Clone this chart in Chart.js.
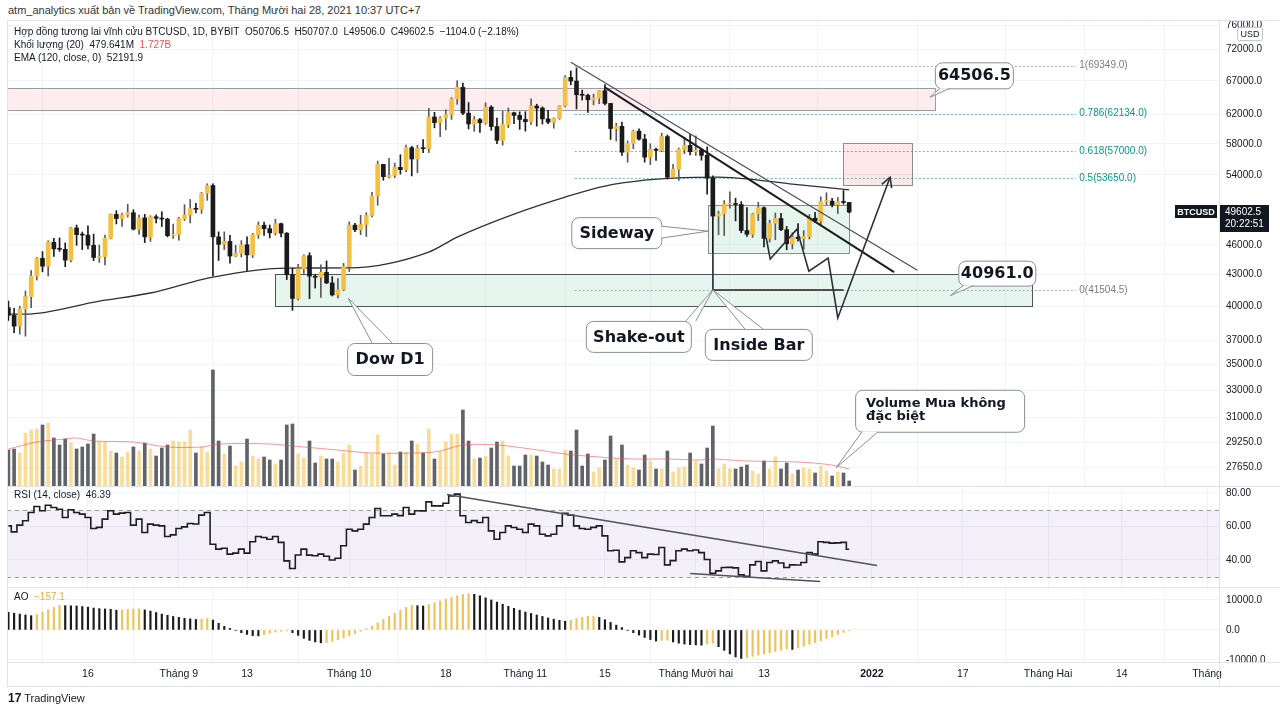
<!DOCTYPE html>
<html>
<head>
<meta charset="utf-8">
<script src="https://cdn.jsdelivr.net/npm/chart.js@4.4.1/dist/chart.umd.min.js"></script>
<style>
  body { margin: 0; background: #fff; width: 1280px; height: 713px; overflow: hidden; position: relative;
         font-family: "Liberation Sans", Arial, sans-serif; color: #131722; }
  canvas { position: absolute; left: 0; }
  #main { top: 20px; }
  #rsi { top: 487px; }
  #ao { top: 588px; }
  .t { position: absolute; white-space: nowrap; font-size: 10px; line-height: 12px; z-index: 2; }
  .sep { position: absolute; background: #e0e3eb; z-index: 1; }
</style>
</head>
<body>
<div class="t" style="left:8px;top:4px;font-size:11px;color:#333">atm_analytics xuất bản về TradingView.com, Tháng Mười hai 28, 2021 10:37 UTC+7</div>

<canvas id="main" width="1280" height="466"></canvas>
<canvas id="rsi" width="1280" height="100"></canvas>
<canvas id="ao" width="1280" height="98"></canvas>

<div class="sep" style="left:7px;top:20px;width:1273px;height:1px"></div>
<div class="sep" style="left:7px;top:20px;width:1px;height:666px"></div>
<div class="sep" style="left:1219px;top:20px;width:1px;height:666px"></div>
<div class="sep" style="left:7px;top:486px;width:1273px;height:1px"></div>
<div class="sep" style="left:7px;top:587px;width:1273px;height:1px"></div>
<div class="sep" style="left:7px;top:662px;width:1273px;height:1px"></div>
<div class="sep" style="left:7px;top:686px;width:1273px;height:1px"></div>

<div class="t" style="left:14px;top:26px">Hợp đồng tương lai vĩnh cửu BTCUSD, 1D, BYBIT&nbsp; O50706.5&nbsp; H50707.0&nbsp; L49506.0&nbsp; C49602.5&nbsp; −1104.0 (−2.18%)</div>
<div class="t" style="left:14px;top:39px">Khối lượng (20)&nbsp; 479.641M&nbsp; <span style="color:#ef5350">1.727B</span></div>
<div class="t" style="left:14px;top:52px">EMA (120, close, 0)&nbsp; 52191.9</div>
<div class="t" style="left:14px;top:489px">RSI (14, close)&nbsp; 46.39</div>
<div class="t" style="left:14px;top:591px">AO&nbsp; <span style="color:#e3b23c">−157.1</span></div>
<div class="t" style="left:8px;top:692px;font-size:11px"><b style="font-size:12px">17</b> TradingView</div>

<script>
// 1 Aug 2021 = day 0, first candle 2 Aug 2021
const firstDay = 1;

const opens = [39850,39150,38200,39740,40870,42840,44610,43820,46290,45590,45550,44430,47830,47100,47050,45970,44700,44800,46720,49340,48870,49290,49530,47700,48950,46860,49070,48900,48810,46990,
  47110,48850,49290,49990,49920,51790,52700,46860,46070,46370,44850,45150,46030,44960,47110,48130,47750,47300,48300,47260,42970,40700,43560,44890,42830,42720,43210,42170,41030,41520,
  43790,48140,47630,48200,49220,51470,55320,53790,53950,54950,54660,57480,56010,57370,57350,61670,60880,61530,62010,64280,66000,62210,60690,61300,60850,63080,60330,58450,60620,62270,61890,
  61320,61000,63230,62940,61400,60940,61480,63270,67530,66950,64880,64810,64140,64400,65500,63610,60060,60360,56890,58050,59710,58620,56250,57270,57130,58960,53730,54720,57270,57780,
  56950,57180,56480,53600,49150,49400,50530,50580,50470,47550,47140,49390,50100,46700,48340,48880,47640,46130,46830,46680,46910,48920,48620,50820,50850,50430,50800,50706.5];
const highs = [40450,39780,39980,41400,43390,44700,45310,46450,46700,46750,46220,47890,48150,47390,48050,47160,46000,47050,49390,49760,49500,50500,49870,49270,49350,49180,49300,49640,48910,48250,
  49000,50450,51050,50600,51900,52920,52920,47400,47400,47030,45980,46460,46880,47250,48500,48490,48150,48800,48370,47330,43630,44000,44980,45200,42980,43950,44350,42790,42600,44100,
  48500,48350,49230,49530,51890,55750,55330,56100,55490,56560,57820,57650,57800,58550,62900,62330,61720,62700,64480,67000,66640,63730,61750,61490,63710,63290,61500,62500,62960,62350,62400,
  62420,64270,63500,63120,62600,61560,63290,67790,68530,69000,65580,65000,64970,65500,66400,63620,60800,60960,58370,59850,60030,59270,58000,57420,59400,59180,55330,57440,58870,59250,
  59050,57380,57600,53900,49700,50920,51940,51200,50800,50100,49480,50720,50200,48700,49500,49450,48000,47300,48300,47550,49330,49580,51370,51850,51200,51280,52100,50707];
const lows = [38700,37640,37510,37330,39850,42450,43260,42850,44800,45330,43770,44250,45960,45520,45600,44380,44200,43950,46650,48270,48000,49030,47600,47120,46250,46370,48380,47980,46860,46700,
  46510,48650,48380,49500,49450,50950,42850,44400,45520,44130,44760,44750,43370,44690,46700,47020,46750,47050,46850,42500,39600,40570,43090,40680,41680,40800,42100,40930,40750,41420,
  43280,47430,47100,46900,49050,50380,53350,53650,53660,54100,54420,53880,54260,56830,56850,60150,58960,59850,61320,63480,62000,60000,59670,59530,60650,59820,58000,57820,60170,60720,59940,
  59700,60620,60380,60680,60720,60100,61340,63120,66380,62820,64100,62300,63400,63570,63400,58570,58370,56480,55600,57350,58470,55610,55300,55830,56950,53500,53660,53330,56700,56550,
  56460,55850,51680,41504.5,47100,47000,50040,48600,47300,46900,46800,48650,45800,46300,46550,47520,45500,45580,46400,45560,46630,48420,48050,50430,50200,49430,50500,49506];
const closes = [39150,38200,39740,40870,42840,44610,43820,46290,45590,45550,44430,47830,47100,47050,45970,44700,44800,46720,49340,48870,49290,49530,47700,48950,46860,49070,48900,48810,46990,47110,
  48850,49290,49990,49920,51790,52700,46860,46070,46370,44850,45150,46030,44960,47110,48130,47750,47300,48300,47260,42970,40700,43560,44890,42830,42720,43210,42170,41030,41520,43790,
  48140,47630,48200,49220,51470,55320,53790,53950,54950,54660,57480,56010,57370,57350,61670,60880,61530,62010,64280,66000,62210,60690,61300,60850,63080,60330,58450,60620,62270,61890,61320,
  61000,63230,62940,61400,60940,61480,63270,67530,66950,64880,64810,64140,64400,65500,63610,60060,60360,56890,58050,59710,58620,56250,57270,57130,58960,53730,54720,57270,57780,56950,
  57180,56480,53600,49150,49400,50530,50580,50470,47550,47140,49390,50100,46700,48340,48880,47640,46130,46830,46680,46910,48920,48620,50820,50850,50430,50800,50710,49602.5];

// volume, billions
const volumes = [3.6,3.7,3.3,5.3,5.6,5.7,6.1,6.3,4.8,4.1,4.7,4.3,3.7,3.9,4.2,5.2,4.4,4.4,3.5,3.3,2.9,3.4,3.9,3.5,4.3,3.7,3.0,3.8,4.1,4.5,
  4.4,4.4,5.6,3.3,3.9,3.4,11.6,4.5,3.2,4.0,2.0,2.4,4.7,3.0,2.7,2.9,2.6,2.2,2.6,6.1,6.2,3.2,2.8,4.5,2.3,3.0,2.7,2.7,2.4,3.3,
  4.1,1.6,2.0,3.3,3.2,5.1,3.2,3.3,2.1,3.4,3.4,4.5,4.2,3.3,5.7,2.7,3.4,4.4,5.2,5.2,7.6,4.5,2.7,2.8,3.0,3.8,4.4,4.5,3.0,2.0,2.0,
  3.1,3.1,3.0,2.4,2.1,1.7,1.7,3.6,3.5,5.6,2.0,3.2,1.4,1.8,2.6,5.0,2.7,4.1,2.1,1.8,1.6,3.1,2.5,1.7,1.7,3.5,1.4,1.8,1.9,3.3,
  2.5,2.2,3.8,6.0,1.7,2.2,1.7,1.7,1.9,2.1,1.5,1.2,2.5,1.7,2.9,1.7,2.3,1.2,1.6,1.8,1.7,1.3,2.0,1.5,1.0,1.4,1.3,0.5];
const volMaDays = [1,6,11,13,16,23,29,35,38,47,53,59,65,76,81,87,93,99,105,111,117,123,125,131,140,146,149];
const volMaValues = [3.7,4.4,4.7,4.8,4.5,4.4,3.9,3.9,4.2,4.2,3.9,3.6,3.3,3.4,4.1,4.1,3.7,3.2,2.9,2.7,2.7,2.6,2.7,2.5,2.4,2.1,1.7];

const emaDays = [1,4,17,26,37,50,61,75,80,90,99,106,113,118,126,133,139,149];
const emaValues = [39270,39270,40460,41210,42740,43630,43650,45260,46840,49380,51340,52650,53370,53620,53740,53370,52890,52190];

const rsiValues = [60.4,56.8,60.8,63.4,68.4,71.9,69.4,72.7,71.3,70.3,65.4,70.0,68.4,67.4,65.4,58.8,59.5,64.4,69.4,67.4,68.0,68.4,60.8,64.4,56.4,61.4,60.8,60.4,54.0,55.0,
  58.8,59.8,61.8,61.5,66.8,68.4,49.4,46.5,47.0,43.5,44.1,46.5,44.1,50.9,54.0,53.4,52.4,54.0,50.5,39.5,34.9,43.0,46.5,42.9,42.5,43.5,42.2,40.0,41.0,48.5,
  58.4,57.4,58.4,61.4,65.4,70.7,66.4,66.4,67.4,66.5,71.3,67.4,69.4,69.3,74.7,72.3,72.3,73.9,78.3,79.3,66.4,62.4,63.5,62.4,65.4,57.4,52.4,56.4,60.4,59.4,58.4,
  56.4,61.4,60.4,55.4,54.4,55.4,60.4,67.9,66.8,60.4,58.8,58.4,59.5,60.4,54.4,45.5,45.8,38.9,41.4,45.5,44.4,41.4,43.5,43.3,47.5,37.1,39.6,45.5,46.5,45.5,
  46.0,44.4,40.3,32.1,33.5,35.5,35.6,35.3,31.1,30.3,37.1,39.1,33.5,38.5,39.5,38.2,35.5,37.1,37.0,38.5,44.4,43.5,50.9,50.5,50.1,50.2,50.5,46.4];

const aoValues = [5900,5600,5300,5000,4750,5200,6000,6800,7500,8200,8100,8050,8000,7800,7600,7300,7100,7000,6900,6600,6700,6850,7000,7050,6700,6300,5800,5300,4900,4500,
  4200,3900,3700,3500,3650,3850,3300,2200,1200,500,-200,-900,-1500,-1900,-2000,-1600,-1100,-700,-400,-300,-900,-1800,-2800,-3500,-4000,-4300,-4200,-3800,-3300,-2700,
  -2000,-1200,-500,400,1300,2400,3500,4600,5600,6600,7500,8300,8100,8000,8500,9100,9700,10300,10900,11400,11800,12100,11900,11400,10700,10000,9300,8600,7900,7200,6600,
  6000,5500,5000,4500,4000,3600,3200,2900,3300,3800,4200,4500,4600,4200,3400,2500,1600,800,-100,-900,-1700,-2500,-3200,-3700,-3500,-3400,-4000,-4400,-4700,
  -4900,-5000,-5100,-4700,-4400,-5600,-6800,-8000,-9000,-9500,-9200,-8800,-8400,-8000,-7600,-7200,-6800,-6400,-6500,-6000,-5400,-4800,-4200,-3600,-2900,-2200,-1500,-800,-157.1];

const tickDays = [15,31,43,61,78,92,106,122,134,153,169,184,197,212];
const tickLabels = ['16','Tháng 9','13','Tháng 10','18','Tháng 11','15','Tháng Mười hai','13','2022','17','Tháng Hai','14','Tháng'];
const priceTicks = [76000,72000,67000,62000,58000,54000,46000,43000,40000,37000,35000,33000,31000,29250,27650];
const rsiTicks = [80,60,40];
const aoTicks = [10000,0,-10000];

const fibLabels = ['1(69349.0)','0.786(62134.0)','0.618(57000.0)','0.5(53650.0)','0(41504.5)'];
const fibPrices = [69349.0,62134.0,57000.0,53650.0,41504.5];
const fibColors = ['#787b86','#089981','#089981','#089981','#787b86'];

const lastPrice = 49602.5;

const dayMin = 0.75, dayMax = 214.1;
const UP = '#f3c043', DOWN = '#1b1b1b';
const axisFont = { family: '"Liberation Sans", Arial, sans-serif', size: 10 };
Chart.defaults.font.family = axisFont.family;
Chart.defaults.animation = false;

const days = closes.map((_, i) => firstDay + i);
const isUp = closes.map((c, i) => c >= opens[i]);

const xScale = (showTicks) => ({
  type: 'linear', min: dayMin, max: dayMax, offset: false,
  afterBuildTicks: s => { s.ticks = tickDays.map(v => ({ value: v })); },
  afterFit: s => { s.height = showTicks ? 24 : 0; s.paddingLeft = 0; s.paddingRight = 0; },
  grid: { color: '#f0f3fa', drawTicks: false },
  border: { display: false },
  ticks: {
    display: showTicks, autoSkip: false, maxRotation: 0, padding: 6, color: '#131722',
    font: c => ({ family: axisFont.family, size: 10.5, weight: tickLabels[tickDays.indexOf(c.tick && c.tick.value)] === '2022' ? 'bold' : 'normal' }),
    callback: v => tickLabels[tickDays.indexOf(v)]
  }
});
const yRight = (ticks, fmt, extra) => Object.assign({
  position: 'right',
  afterBuildTicks: s => { s.ticks = ticks.map(v => ({ value: v })); },
  afterFit: s => { s.width = 61; s.paddingTop = 0; s.paddingBottom = 0; },
  grid: { color: '#f0f3fa', drawTicks: false },
  border: { display: false },
  ticks: { padding: 7, color: '#131722', font: axisFont, callback: fmt }
}, extra);

// ---- drawing helpers
function pt(chart, d, v, axis) {
  return [chart.scales.x.getPixelForValue(d), chart.scales[axis || 'y'].getPixelForValue(v)];
}
function seg(ctx, pts, color, width, dash) {
  ctx.beginPath();
  ctx.strokeStyle = color; ctx.lineWidth = width; ctx.setLineDash(dash || []);
  pts.forEach((p, i) => i ? ctx.lineTo(p[0], p[1]) : ctx.moveTo(p[0], p[1]));
  ctx.stroke(); ctx.setLineDash([]);
}

const zones = [
  { from: dayMin, to: 164.1, top: 65900, bottom: 62650, fill: 'rgba(242,54,69,0.09)', line: '#9a9ca5' },
  { from: 47.9, to: 181.2, top: 43000, bottom: 40000, fill: 'rgba(8,153,90,0.1)', line: '#50535e' },
  { from: 124.2, to: 149.0, top: 50400, bottom: 45150, fill: 'rgba(8,153,90,0.1)', line: '#8a8d96' },
  { from: 147.9, to: 160.1, top: 58070, bottom: 52750, fill: 'rgba(242,54,69,0.12)', line: '#8a8d96' }
];
const trendThin = [[100.0, 69900], [161.0, 43420]];
const trendThick = [[106.0, 66000], [156.9, 43220]];
const zigzag = [[134.4, 46740], [135.1, 44540], [139.8, 47700], [141.9, 43320], [145.3, 44640], [147.0, 38920], [156.2, 53720]];
const callouts = [
  { text: ['64506.5'], at: [163.2, 64506.5], box: [5, -35, 78, 26], w: [[10, -9], [20, -9]] },
  { text: ['40961.0'], at: [166.8, 40961], box: [8, -35, 77, 25], w: [[13, -10], [23, -10]] },
  { text: ['Sideway'], at: [124.2, 47480], box: [-137, -14, 90, 31], w: [[-47, -5], [-47, 7]] },
  { text: ['Dow D1'], at: [60.8, 40740], box: [-1, 45, 85, 32], w: [[24, 45], [44, 45]] },
  { text: ['Shake-out'], at: [125.0, 41504.5], box: [-127, 31, 105, 31], w: [[-27, 31], [-17, 31]] },
  { text: ['Inside Bar'], at: [125.0, 41504.5], box: [-8, 39, 107, 31], w: [[32, 39], [50, 39]] },
  { text: ['Volume Mua không', 'đặc biệt'], at: [146.7, 27620], box: [19, -78, 169, 42], w: [[26, -36], [42, -36]], small: true }
];

function drawCallout(ctx, chart, c) {
  const [ax, ay] = pt(chart, c.at[0], c.at[1]);
  const [bx, by, bw, bh] = c.box;
  const x = ax + bx, y = ay + by;
  ctx.beginPath(); ctx.roundRect(x + 0.5, y + 0.5, bw, bh, 7);
  ctx.fillStyle = '#fff'; ctx.fill();
  ctx.strokeStyle = '#8a8d96'; ctx.lineWidth = 1; ctx.stroke();
  const w1 = c.w[0], w2 = c.w[1];
  ctx.beginPath(); ctx.moveTo(ax + w1[0], ay + w1[1]); ctx.lineTo(ax, ay); ctx.lineTo(ax + w2[0], ay + w2[1]);
  ctx.fillStyle = '#fff'; ctx.fill(); ctx.stroke();
  ctx.fillStyle = '#131722';
  if (c.small) {
    ctx.font = 'bold 13px "DejaVu Sans"'; ctx.textAlign = 'left'; ctx.textBaseline = 'middle';
    c.text.forEach((s, i) => ctx.fillText(s, x + 11, y + 14 + i * 13));
  } else {
    ctx.font = 'bold 16px "DejaVu Sans"'; ctx.textAlign = 'center'; ctx.textBaseline = 'middle';
    ctx.fillText(c.text[0], x + bw / 2 + 0.5, y + bh / 2 + 1);
  }
}

const mainDrawings = {
  id: 'mainDrawings',
  beforeDatasetsDraw(chart) {
    const ctx = chart.ctx;
    ctx.save();
    zones.forEach(z => {
      const [x1, y1] = pt(chart, z.from, z.top);
      const [x2, y2] = pt(chart, z.to, z.bottom);
      ctx.fillStyle = z.fill; ctx.fillRect(x1, y1, x2 - x1, y2 - y1);
      ctx.strokeStyle = z.line; ctx.lineWidth = 1;
      ctx.strokeRect(Math.round(x1) + 0.5, Math.round(y1) + 0.5, Math.round(x2 - x1), Math.round(y2 - y1));
    });
    fibPrices.forEach((p, i) => {
      const a = pt(chart, 100.7, p), b = pt(chart, 188.9, p);
      seg(ctx, [[a[0], Math.round(a[1]) + 0.5], [b[0], Math.round(b[1]) + 0.5]], fibColors[i] + '99', 1, [2, 2]);
    });
    ctx.restore();
  },
  afterDatasetsDraw(chart) {
    const ctx = chart.ctx;
    ctx.save();
    seg(ctx, trendThin.map(p => pt(chart, p[0], p[1])), '#4a4d57', 1.2);
    seg(ctx, trendThick.map(p => pt(chart, p[0], p[1])), '#1e1e1e', 2);
    // shake-out marker lines
    seg(ctx, [pt(chart, 125.0, 45150), pt(chart, 125.0, 41504.5)], '#50535e', 1);
    seg(ctx, [pt(chart, 125.0, 41504.5), pt(chart, 148.0, 41504.5)], '#1e1e1e', 1.5);
    // projected path with arrow
    const z = zigzag.map(p => pt(chart, p[0], p[1]));
    seg(ctx, z, '#2a2e39', 1.6);
    const e = z[z.length - 1], s = z[z.length - 2];
    const ang = Math.atan2(e[1] - s[1], e[0] - s[0]);
    seg(ctx, [[e[0] - 11 * Math.cos(ang - 0.5), e[1] - 11 * Math.sin(ang - 0.5)], e,
              [e[0] - 11 * Math.cos(ang + 0.5), e[1] - 11 * Math.sin(ang + 0.5)]], '#2a2e39', 1.6);
    // fib labels
    ctx.font = '10px "Liberation Sans"'; ctx.textAlign = 'left'; ctx.textBaseline = 'middle';
    fibPrices.forEach((p, i) => {
      const a = pt(chart, 189.5, p);
      ctx.fillStyle = fibColors[i]; ctx.fillText(fibLabels[i], a[0], a[1]);
    });
    callouts.forEach(c => drawCallout(ctx, chart, c));
    ctx.restore();
  },
  afterDraw(chart) {
    const ctx = chart.ctx;
    ctx.save();
    const y = chart.scales.y.getPixelForValue(lastPrice);
    ctx.fillStyle = '#131722';
    ctx.fillRect(1219, Math.round(y) - 7, 50, 27);
    ctx.fillRect(1175, Math.round(y) - 7, 42, 13);
    ctx.fillStyle = '#fff'; ctx.textBaseline = 'middle';
    ctx.font = '10px "Liberation Sans"'; ctx.textAlign = 'left';
    ctx.fillText(lastPrice.toFixed(1), 1225, y);
    ctx.fillText('20:22:51', 1225, y + 12);
    ctx.font = 'bold 9px "Liberation Sans"'; ctx.textAlign = 'center';
    ctx.fillText('BTCUSD', 1196, y);
    // currency badge
    ctx.beginPath(); ctx.roundRect(1237.5, 7.5, 25, 13, 2);
    ctx.fillStyle = '#fff'; ctx.fill(); ctx.strokeStyle = '#c4c6cc'; ctx.lineWidth = 1; ctx.stroke();
    ctx.fillStyle = '#131722'; ctx.font = '9px "Liberation Sans"';
    ctx.fillText('USD', 1250, 14.5);
    ctx.restore();
  }
};

new Chart(document.getElementById('main'), {
  type: 'bar',
  data: {
    datasets: [
      { type: 'bar', data: volumes.map((v, i) => ({ x: days[i], y: v })), yAxisID: 'yVol',
        backgroundColor: isUp.map(u => u ? 'rgba(243,192,67,0.55)' : 'rgba(70,72,78,0.85)'),
        barThickness: 3, grouped: false, order: 6 },
      { type: 'line', data: volMaDays.map((d, i) => ({ x: d, y: volMaValues[i] })), yAxisID: 'yVol',
        borderColor: 'rgba(239,83,80,0.6)', borderWidth: 1, pointRadius: 0, tension: 0.3, order: 5 },
      { type: 'line', data: emaDays.map((d, i) => ({ x: d, y: emaValues[i] })), yAxisID: 'y',
        borderColor: '#2f3036', borderWidth: 1.3, pointRadius: 0, cubicInterpolationMode: 'monotone', order: 4 },
      { type: 'bar', data: lows.map((l, i) => ({ x: days[i], y: [l, highs[i]] })), yAxisID: 'y',
        backgroundColor: isUp.map(u => u ? '#5a5a5a' : DOWN), barThickness: 1, grouped: false, order: 3 },
      { type: 'bar', data: opens.map((o, i) => ({ x: days[i], y: [o, closes[i]] })), yAxisID: 'y',
        backgroundColor: isUp.map(u => u ? UP : DOWN), barThickness: 4, minBarLength: 1, grouped: false, order: 2 }
    ]
  },
  options: {
    responsive: false,
    layout: { padding: { left: 7, right: 0, top: 0, bottom: 0 } },
    plugins: { legend: { display: false }, tooltip: { enabled: false } },
    scales: {
      x: xScale(false),
      y: yRight(priceTicks, v => Number(v).toFixed(1), { type: 'logarithmic', min: 26490, max: 77000 }),
      yVol: { type: 'linear', display: false, min: 0, max: 46.6 }
    }
  },
  plugins: [mainDrawings]
});

const rsiLines = [[[78.2, 79.1], [153.9, 36.7]], [[121.0, 31.9], [143.9, 27.2]]];
const rsiDrawings = {
  id: 'rsiDrawings',
  beforeDatasetsDraw(chart) {
    const ctx = chart.ctx, a = chart.chartArea;
    ctx.save();
    const y70 = chart.scales.y.getPixelForValue(70), y30 = chart.scales.y.getPixelForValue(30);
    ctx.fillStyle = 'rgba(126,87,194,0.09)';
    ctx.fillRect(a.left, y70, a.right - a.left, y30 - y70);
    seg(ctx, [[a.left, Math.round(y70) + 0.5], [a.right, Math.round(y70) + 0.5]], '#9598a1', 1, [4, 4]);
    seg(ctx, [[a.left, Math.round(y30) + 0.5], [a.right, Math.round(y30) + 0.5]], '#9598a1', 1, [4, 4]);
    ctx.restore();
  },
  afterDatasetsDraw(chart) {
    const ctx = chart.ctx;
    ctx.save();
    rsiLines.forEach(l => seg(ctx, l.map(p => pt(chart, p[0], p[1])), '#50535e', 1.6));
    ctx.restore();
  }
};

new Chart(document.getElementById('rsi'), {
  type: 'line',
  data: {
    datasets: [{ data: rsiValues.map((v, i) => ({ x: days[i], y: v })), borderColor: '#1e1e1e',
      borderWidth: 1.6, pointRadius: 0, stepped: 'middle' }]
  },
  options: {
    responsive: false,
    layout: { padding: { left: 7, right: 0, top: 0, bottom: 0 } },
    plugins: { legend: { display: false }, tooltip: { enabled: false } },
    scales: {
      x: xScale(false),
      y: yRight(rsiTicks, v => Number(v).toFixed(2), { type: 'linear', min: 23.88, max: 83.58 })
    }
  },
  plugins: [rsiDrawings]
});

new Chart(document.getElementById('ao'), {
  type: 'bar',
  data: {
    datasets: [{ data: aoValues.map((v, i) => ({ x: days[i], y: v })),
      backgroundColor: aoValues.map((v, i) => (i > 0 && v > aoValues[i - 1]) ? '#efc25a' : '#1b1b1b'),
      barThickness: 1.5 }]
  },
  options: {
    responsive: false,
    layout: { padding: { left: 7, right: 0, top: 0, bottom: 0 } },
    plugins: { legend: { display: false }, tooltip: { enabled: false } },
    scales: {
      x: xScale(true),
      y: yRight(aoTicks, v => Number(v).toFixed(1), { type: 'linear', min: -10700, max: 14000 })
    }
  }
});
</script>
</body>
</html>
